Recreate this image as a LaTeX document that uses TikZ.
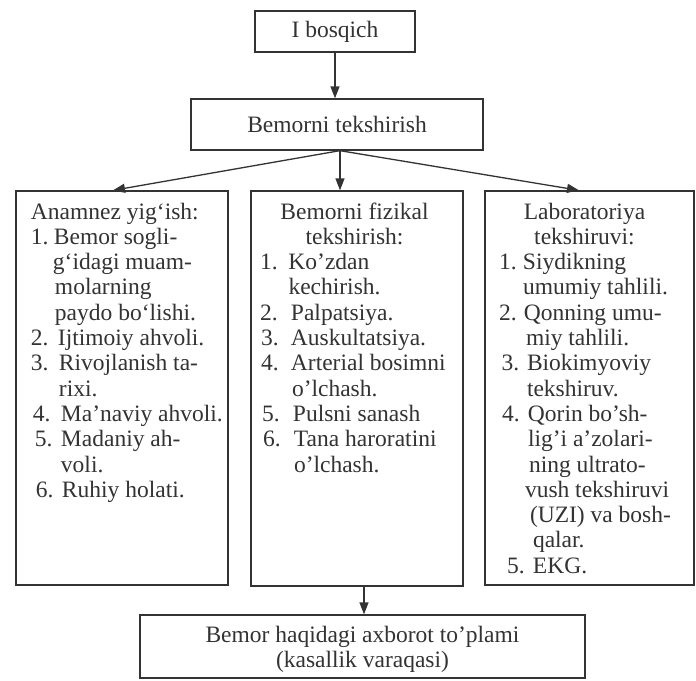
\documentclass[tikz,border=0pt]{standalone}
\usepackage{fontspec}
\setmainfont{Liberation Serif}
\usetikzlibrary{arrows.meta}
\definecolor{ink}{gray}{0.2}
\tikzset{
  box/.style={draw=ink, line width=1.3pt, inner sep=0pt, text=ink},
  arr/.style={draw=ink, line width=1.3pt, -{Triangle[length=12pt,width=9pt]}},
}
% number at offset #1, text at offset #3
\newcommand\itm[4]{\makebox[0pt][l]{\hspace*{#1pt}#2}\hspace*{#3pt}#4}
\newcommand\cnt[2]{\hspace*{#1pt}#2}
\begin{document}
\begin{tikzpicture}[x=1pt,y=1pt,font=\fontsize{23.5}{25.3}\selectfont]
\fill[white] (0,0) rectangle (696,-680);
\useasboundingbox (0,0) rectangle (696,-680);

\node[box, minimum width=160pt, minimum height=41pt] (st) at (335,-31.5) {I bosqich};
\node[box, minimum width=292pt, minimum height=51pt] (bt) at (337,-124.5) {Bemorni tekshirish};

\node[box] (anam) at (122,-388) {\parbox[c][394pt][t]{212pt}{%
\rule{0pt}{28pt}\cnt{15}{Anamnez yig‘ish:}\\
\itm{15}{1.}{38}{Bemor sogli-}\\
\cnt{37}{g‘idagi muam-}\\
\cnt{39}{molarning}\\
\cnt{39}{paydo bo‘lishi.}\\
\itm{15}{2.}{42}{Ijtimoiy ahvoli.}\\
\itm{15}{3.}{43}{Rivojlanish ta-}\\
\cnt{43}{rixi.}\\
\itm{17}{4.}{45}{Ma’naviy ahvoli.}\\
\itm{19}{5.}{45}{Madaniy ah-}\\
\cnt{45}{voli.}\\
\itm{20}{6.}{46}{Ruhiy holati.}}};

\node[box] (fiz) at (357,-388.5) {\parbox[c][395pt][t]{212pt}{%
\rule{0pt}{28pt}\makebox[207pt][c]{Bemorni fizikal}\\
\makebox[207pt][c]{tekshirish:}\\
\itm{9}{1.}{37.5}{Ko’zdan}\\
\cnt{37.5}{kechirish.}\\
\itm{9}{2.}{40}{Palpatsiya.}\\
\itm{10}{3.}{40}{Auskultatsiya.}\\
\itm{10}{4.}{40}{Arterial bosimni}\\
\cnt{41}{o’lchash.}\\
\itm{11}{5.}{42}{Pulsni sanash}\\
\itm{12}{6.}{43}{Tana haroratini}\\
\cnt{43}{o’lchash.}}};

\node[box] (lab) at (589.5,-388) {\parbox[c][394pt][t]{209pt}{%
\rule{0pt}{28pt}\makebox[199pt][c]{Laboratoriya}\\
\makebox[199pt][c]{tekshiruvi:}\\
\itm{14}{1.}{38}{Siydikning}\\
\cnt{38}{umumiy tahlili.}\\
\itm{14}{2.}{39}{Qonning umu-}\\
\cnt{41}{miy tahlili.}\\
\itm{16.5}{3.}{42}{Biokimyoviy}\\
\cnt{42}{tekshiruv.}\\
\itm{17}{4.}{43}{Qorin bo’sh-}\\
\cnt{43}{lig’i a’zolari-}\\
\cnt{44}{ning ultrato-}\\
\cnt{40}{vush tekshiruvi}\\
\cnt{45}{(UZI) va bosh-}\\
\cnt{48}{qalar.}\\
\itm{22}{5.}{48}{EKG.}}};

\node[box] (res) at (362.5,-646.5) {\parbox[c][63pt][t]{445pt}{\centering
\rule{0pt}{27pt}Bemor haqidagi axborot to’plami\\
(kasallik varaqasi)}};

\draw[arr] (st.south) -- (st.south |- bt.north);
\draw[arr] ([xshift=3pt]bt.south) -- ([xshift=-9pt]anam.north);
\draw[arr] ([xshift=3pt]bt.south) -- ([xshift=3pt]bt.south |- fiz.north);
\draw[arr] ([xshift=3pt]bt.south) -- ([xshift=-10.5pt]lab.north);
\draw[arr] ([xshift=7pt]fiz.south) -- ([xshift=7pt]fiz.south |- res.north);
\end{tikzpicture}
\end{document}
